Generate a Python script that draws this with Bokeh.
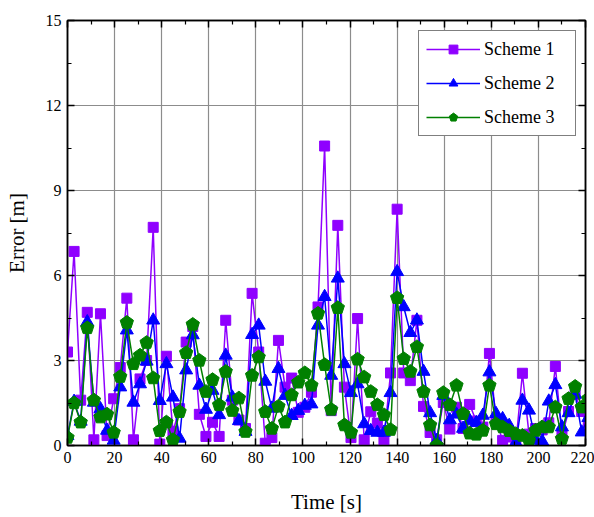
from bokeh.plotting import figure
from bokeh.models import (Range1d, FixedTicker, LinearAxis, Legend, LegendItem,
                          CustomLabelingPolicy)
from bokeh.embed import file_html
from bokeh.resources import INLINE

# ---- data ----
time_s = [0.0, 2.8, 5.6, 8.4, 11.2, 14.0, 16.8, 19.6, 22.4, 25.2,
          28.0, 30.8, 33.6, 36.4, 39.2, 42.0, 44.8, 47.6, 50.4, 53.2,
          56.0, 58.8, 61.6, 64.4, 67.2, 70.0, 72.8, 75.6, 78.4, 81.2,
          84.0, 86.8, 89.6, 92.4, 95.2, 98.0, 100.8, 103.6, 106.4, 109.2,
          112.0, 114.8, 117.6, 120.4, 123.2, 126.0, 128.8, 131.6, 134.4, 137.2,
          140.0, 142.8, 145.6, 148.4, 151.2, 154.0, 156.8, 159.6, 162.4, 165.2,
          168.0, 170.8, 173.6, 176.4, 179.2, 182.0, 184.8, 187.6, 190.4, 193.2,
          196.0, 198.8, 201.6, 204.4, 207.2, 210.0, 212.8, 215.6, 218.4, 221.2]

scheme1 = [3.3, 6.85, 1.6, 4.7, 0.2, 4.65, 0.35, 1.65, 2.75, 5.2,
           0.2, 2.35, 3.0, 7.7, 0.05, 3.15, 0.5, 1.3, 3.65, 4.2,
           1.1, 0.32, 0.82, 0.32, 4.42, 1.6, 0.9, 0.6, 5.37, 3.3,
           0.08, 0.28, 3.71, 2.06, 2.38, 1.17, 1.35, 1.88, 4.89, 10.57,
           1.23, 7.77, 2.06, 0.28, 4.48, 0.2, 1.19, 0.79, 0.2, 2.56,
           8.34, 2.56, 2.29, 4.42, 1.38, 0.46, 0.2, 1.52, 0.58, 1.35,
           0.6, 1.45, 0.86, 0.65, 3.25, 0.9, 0.18, 0.3, 0.05, 2.55,
           0.4, 0.6, 0.55, 0.8, 2.79, 0.35, 1.2, 1.8, 1.2, 0.65]

scheme2 = [0.34, 1.55, 0.85, 4.36, 1.52, 1.29, 0.53, 0.18, 2.06, 4.07,
           1.52, 2.17, 2.97, 4.42, 1.58, 2.88, 1.7, 0.25, 2.66, 3.9,
           2.12, 1.27, 1.94, 1.08, 3.18, 1.7, 0.87, 0.49, 3.91, 4.24,
           2.26, 1.31, 2.71, 1.76, 1.05, 1.23, 1.41, 1.46, 4.24, 5.25,
           2.47, 5.9, 2.88, 1.86, 2.17, 0.76, 0.52, 0.46, 0.46, 1.86,
           6.13, 4.89, 3.98, 4.42, 2.61, 1.15, 0.17, 1.76, 0.9, 1.1,
           0.6, 0.88, 0.8, 1.06, 2.59, 1.12, 0.94, 0.7, 0.1, 1.59,
           1.24, 0.18, 0.15, 1.56, 2.14, 0.65, 1.15, 1.8, 0.47, 0.98]

scheme3 = [0.28, 1.5, 0.82, 4.15, 1.6, 1.0, 1.1, 0.46, 2.43, 4.34,
           2.88, 3.18, 3.63, 2.38, 0.52, 0.82, 0.2, 1.19, 3.27, 4.27,
           3.0, 1.9, 2.32, 1.43, 2.61, 1.23, 1.67, 0.49, 2.47, 3.12,
           1.19, 0.6, 1.38, 0.82, 1.78, 2.23, 2.56, 2.12, 4.66, 2.85,
           1.27, 4.86, 0.72, 0.46, 3.04, 2.41, 1.9, 1.43, 1.08, 0.56,
           5.21, 3.06, 2.61, 3.48, 1.9, 0.72, 0.0, 1.86, 1.43, 2.12,
           1.12, 0.43, 0.39, 0.53, 2.12, 0.76, 0.65, 0.52, 0.41, 0.35,
           0.18, 0.53, 0.65, 0.65, 1.35, 0.24, 1.65, 2.08, 1.35, 1.65]

series_names = ["Scheme 1", "Scheme 2", "Scheme 3"]
x_ticks = [0, 20, 40, 60, 80, 100, 120, 140, 160, 180, 200, 220]
x_minor = [10, 30, 50, 70, 90, 110, 130, 150, 170, 190, 210]
y_ticks = [0, 3, 6, 9, 12, 15]
y_minor = [1.5, 4.5, 7.5, 10.5, 13.5]

FONT = "Liberation Serif"
C1, C2, C3 = "#8F00FF", "#0000FF", "#008000"

p = figure(width=594, height=517, output_backend="svg", toolbar_location=None,
           x_range=Range1d(0, 220), y_range=Range1d(0, 15),
           min_border_left=67, min_border_right=9, min_border_top=20, min_border_bottom=72)
p.background_fill_color = "white"
p.border_fill_color = "white"
p.outline_line_color = "black"
p.outline_line_width = 1.5

hide_labels = CustomLabelingPolicy(
    code="for (let i = 0; i < indices.size; i++) { indices.unset(i) }\nreturn indices")

def style_axis(ax, show_labels):
    ax.axis_line_color = "black"
    ax.axis_line_width = 1.5
    ax.major_tick_in = 7
    ax.major_tick_out = 0
    ax.minor_tick_in = 4
    ax.minor_tick_out = 0
    ax.major_tick_line_color = "black"
    ax.minor_tick_line_color = "black"
    ax.major_tick_line_width = 1.5
    ax.minor_tick_line_width = 1.2
    ax.major_label_text_font = FONT
    ax.major_label_text_font_size = "16px" if show_labels else "1px"
    ax.major_label_text_color = "black"
    ax.axis_label_text_font = FONT
    ax.axis_label_text_font_size = "21px"
    ax.axis_label_text_font_style = "normal"
    ax.axis_label_text_color = "black"
    if not show_labels:
        ax.major_label_standoff = 0
        ax.major_label_policy = hide_labels

xt = FixedTicker(ticks=x_ticks, minor_ticks=x_minor)
yt = FixedTicker(ticks=y_ticks, minor_ticks=y_minor)
p.xaxis.ticker = xt
p.yaxis.ticker = yt
p.xaxis.axis_label = "Time [s]"
p.yaxis.axis_label = "Error [m]"
p.xaxis.axis_label_standoff = 24
p.yaxis.axis_label_standoff = 14
p.xaxis.major_label_standoff = 6
p.yaxis.major_label_standoff = 6
style_axis(p.xaxis[0], True)
style_axis(p.yaxis[0], True)

top_ax = LinearAxis(ticker=FixedTicker(ticks=x_ticks, minor_ticks=x_minor))
right_ax = LinearAxis(ticker=FixedTicker(ticks=y_ticks, minor_ticks=y_minor))
style_axis(top_ax, False)
style_axis(right_ax, False)
p.add_layout(top_ax, "above")
p.add_layout(right_ax, "right")

p.xgrid.ticker = xt
p.ygrid.ticker = yt
for g in (p.xgrid[0], p.ygrid[0]):
    g.grid_line_color = "#8c8c8c"
    g.grid_line_width = 1.2

l1 = p.line(time_s, scheme1, line_color=C1, line_width=1.5)
m1 = p.scatter(time_s, scheme1, marker="square", size=10, fill_color=C1, line_color=C1)
l2 = p.line(time_s, scheme2, line_color=C2, line_width=1.5)
m2 = p.scatter(time_s, scheme2, marker="triangle", size=13, fill_color=C2, line_color=C2)
l3 = p.line(time_s, scheme3, line_color=C3, line_width=1.5)
m3 = p.ngon(x=time_s, y=scheme3, radius=7, radius_units="screen", n=5,
            angle=0.0, fill_color=C3, line_color=C3)

legend = Legend(items=[LegendItem(label=series_names[0], renderers=[l1, m1]),
                       LegendItem(label=series_names[1], renderers=[l2, m2]),
                       LegendItem(label=series_names[2], renderers=[l3, m3])],
                location=(351, 309))
legend.margin = 0
legend.padding = 7
legend.spacing = 12
legend.glyph_width = 54
legend.glyph_height = 22
legend.label_height = 22
legend.label_width = 84
legend.label_standoff = 4
legend.label_text_font = FONT
legend.label_text_font_size = "18px"
legend.label_text_color = "black"
legend.border_line_color = "black"
legend.border_line_width = 1
legend.background_fill_alpha = 1.0
p.add_layout(legend)

open("out.html", "w").write(file_html(p, INLINE))
